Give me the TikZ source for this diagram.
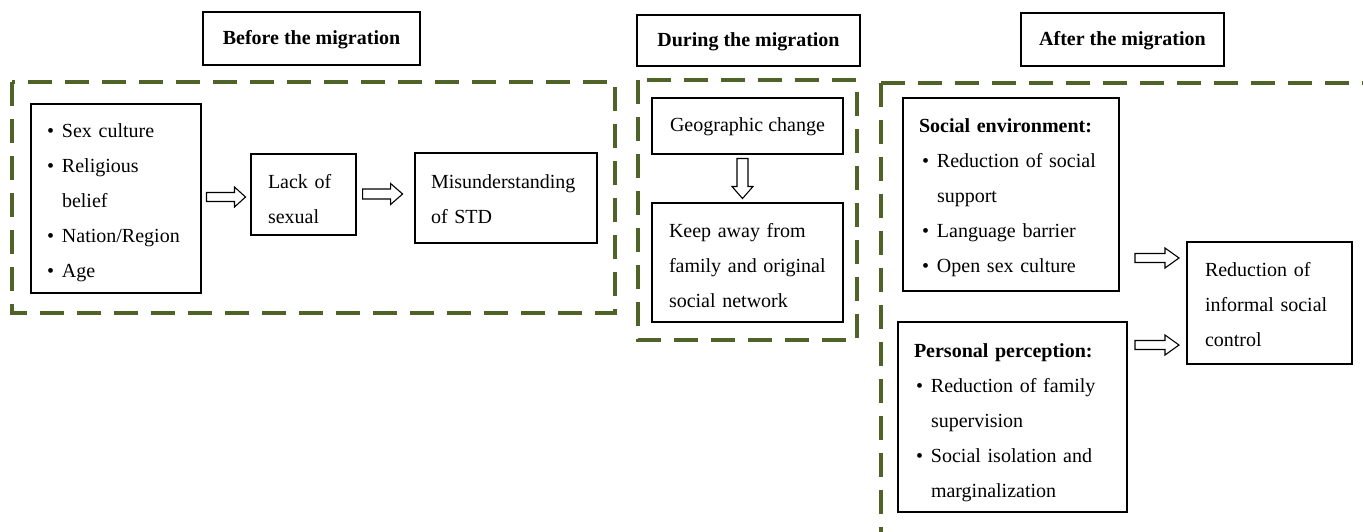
\documentclass[tikz,border=0pt]{standalone}
\usepackage{fontspec}
\setmainfont{Liberation Serif}
\usetikzlibrary{calc}
\definecolor{olivegreen}{RGB}{79,98,40}
\newcommand{\bul}{\makebox[15pt][l]{\textbullet}}
\newcommand{\ind}[1]{\hspace*{#1pt}}
\newcommand{\tstrut}[1]{\rule{0pt}{#1pt}}
\newcommand{\blockarrow}[6]{% center, angle, length, head width, shaft width, head length
  \begin{scope}[shift={(#1)},rotate=#2]
    \draw[blockarrowsty] ({-#3/2},{-#5/2}) -- ({#3/2-#6},{-#5/2}) -- ({#3/2-#6},{-#4/2}) -- ({#3/2},0)
      -- ({#3/2-#6},{#4/2}) -- ({#3/2-#6},{#5/2}) -- ({-#3/2},{#5/2}) -- cycle;
  \end{scope}}
\begin{document}
\begin{tikzpicture}[x=1pt,y=-1pt,
  every node/.style={font=\fontsize{20}{35}\selectfont, inner sep=0pt},
  box/.style={draw, line width=1.1pt, rectangle},
  titlebox/.style={box, font=\fontsize{20}{35}\selectfont\bfseries},
  dashbox/.style={draw=olivegreen, line width=3.6pt, dash pattern=on 24pt off 13pt},
  blockarrowsty/.style={draw, line width=1.1pt, fill=white},
]
\path[use as bounding box, clip] (0,0) rectangle (1363,531);
\fill[white] (0,0) rectangle (1363,531);

% titles
\node[titlebox, minimum width=217, minimum height=53] (before) at (311.5,38.5) {\tstrut{16}Before the migration};
\node[titlebox, minimum width=223, minimum height=51] (during) at (748.5,40.5) {\tstrut{16}During the migration};
\node[titlebox, minimum width=203, minimum height=53] (after) at (1122.5,39.5) {\tstrut{16}After the migration};

% dashed frames
\draw[dashbox] (12,82) rectangle (615,313);
\draw[dashbox] (638,80) rectangle (857,340);
\draw[dashbox] (881,83) rectangle (1366,535);

% before
\node[box, minimum width=170, minimum height=189, text width=138, align=left] (lst) at (116,198.5)
  {\tstrut{22}\bul Sex culture\\ \bul Religious\\ \ind{15}belief\\ \bul Nation/Region\\ \bul Age};
\node[box, minimum width=105, minimum height=81, text width=71, align=left] (lack) at (303.5,194.5)
  {\tstrut{23}Lack of\\ sexual};
\node[box, minimum width=182, minimum height=90, text width=150, align=left] (mis) at (506,198)
  {\tstrut{16}Misunderstanding\\ of STD};

% during
\node[box, minimum width=191, minimum height=56] (geo) at (747.5,126) {\tstrut{15}Geographic change};
\node[box, minimum width=191, minimum height=119, text width=157, align=left] (keep) at (747.5,262.5)
  {\tstrut{20}Keep away from\\ family and original\\ social network};

% after
\node[box, minimum width=216, minimum height=193, text width=184, align=left] (soc) at (1011,194.5)
  {\tstrut{20}\textbf{Social environment:}\\ \ind{3}\bul Reduction of social\\ \ind{18}support\\ \ind{3}\bul Language barrier\\ \ind{3}\bul Open sex culture};
\node[box, minimum width=229, minimum height=190, text width=197, align=left] (pers) at (1012.5,417)
  {\tstrut{25}\textbf{Personal perception:}\\ \ind{2}\bul Reduction of family\\ \ind{17}supervision\\ \ind{2}\bul Social isolation and\\ \ind{17}marginalization};
\node[box, minimum width=165, minimum height=122, text width=129, align=left] (red) at (1269.5,303)
  {\tstrut{18}Reduction of\\ informal social\\ control};

% block arrows between named boxes
\coordinate (m1) at ($(lst.east)!.5!(lack.west)$);
\coordinate (m2) at ($(lack.east)!.45!(mis.west)$);
\coordinate (m3) at ($(geo.south)!.5!(keep.north)$);
\coordinate (m4) at ($(soc.east)!.56!(red.west)$);
\coordinate (m5) at ($(pers.east)!.5!(red.west)$);
\coordinate (a1) at (m1 |- 0,197);
\coordinate (a2) at (m2 |- 0,194);
\coordinate (a3) at ([xshift=-5pt]m3);
\coordinate (a4) at (m4 |- 0,258);
\coordinate (a5) at (m5 |- 0,345);
\blockarrow{a1}{0}{39}{20}{9}{11}
\blockarrow{a2}{0}{40}{21}{10}{12}
\blockarrow{a3}{-90}{40}{21}{11}{12}
\blockarrow{a4}{0}{44}{20}{9}{14}
\blockarrow{a5}{0}{44}{20}{9}{14}
\end{tikzpicture}
\end{document}
